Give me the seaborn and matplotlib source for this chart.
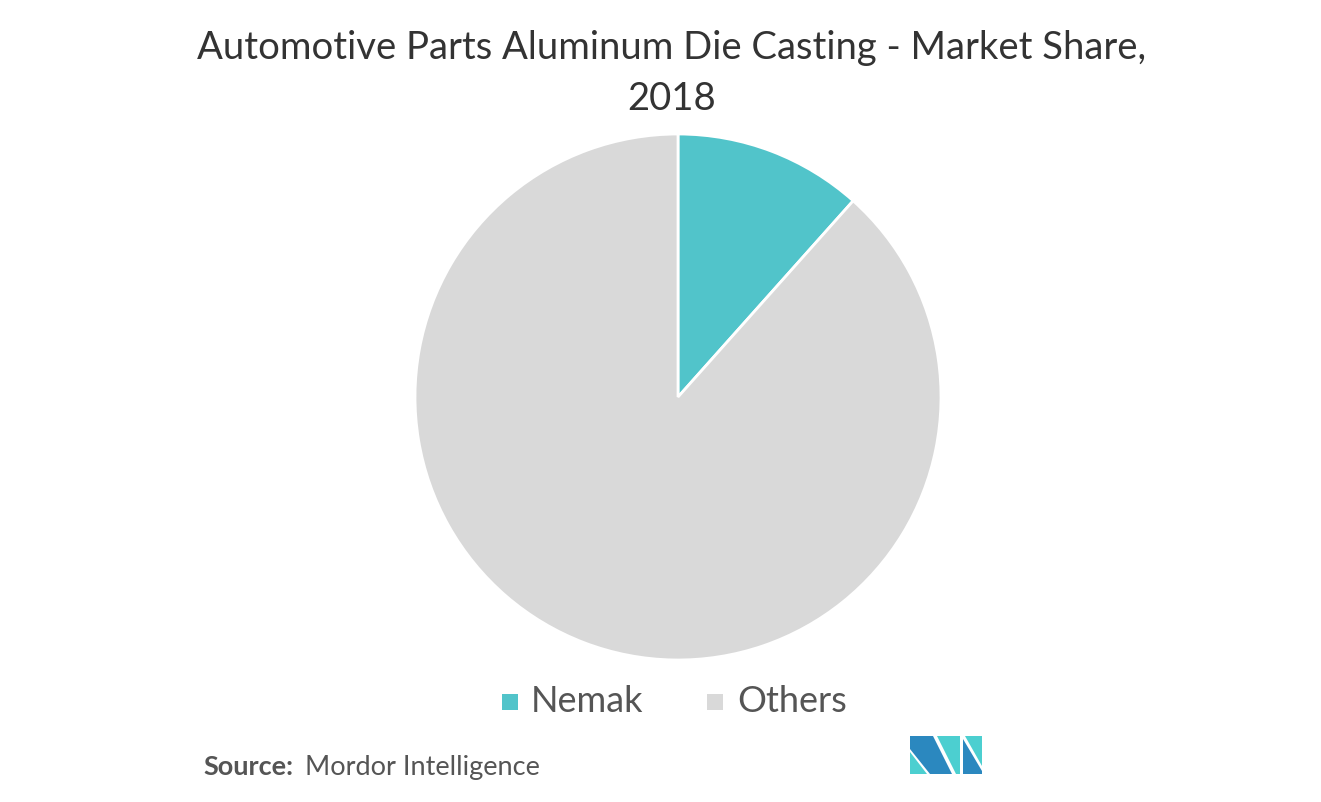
import matplotlib
matplotlib.use("Agg")
import matplotlib.pyplot as plt
import seaborn as sns
from matplotlib.patches import Polygon, Rectangle

# Market share data
segments = ["Nemak", "Others"]
shares = [11.6, 88.4]
colors = ["#51c4ca", "#d9d9d9"]

sns.set_theme(style="white")
plt.rcParams['font.family'] = ['Lato', 'DejaVu Sans']

W, H = 1321, 802
fig = plt.figure(figsize=(W / 100, H / 100), dpi=100)
fig.patch.set_facecolor("white")


def fx(px):
    return px / W


def fy(py):
    return 1 - py / H


# pie axes: centre (678, 397), radius ~263 px
cx, cy, r = 678, 397, 263
ax = fig.add_axes([fx(cx - r), fy(cy + r), 2 * r / W, 2 * r / H])
ax.pie(shares, colors=colors, startangle=90, counterclock=False,
       wedgeprops=dict(edgecolor="white", linewidth=2))
ax.set_xlim(-1, 1)
ax.set_ylim(-1, 1)
ax.set_aspect("auto")
ax.axis("off")

# title
fig.text(fx(672), fy(48), "Automotive Parts Aluminum Die Casting - Market Share,",
         ha="center", va="center", fontsize=27.5, color="#333333")
fig.text(fx(672), fy(99), "2018", ha="center", va="center", fontsize=27.5, color="#333333")

# legend
leg_y = 702
for (lx, tx), name, col in zip([(510, 531), (715, 737)], segments, colors):
    fig.add_artist(Rectangle((fx(lx - 8), fy(leg_y + 8)), 16 / W, 16 / H,
                             transform=fig.transFigure, facecolor=col, edgecolor="none"))
    fig.text(fx(tx), fy(leg_y), name, ha="left", va="center", fontsize=26, color="#555555")

# source
fig.text(fx(203), fy(767), "Source:", ha="left", va="center", fontsize=19.5,
         fontweight="bold", color="#555555")
fig.text(fx(305), fy(767), "Mordor Intelligence", ha="left", va="center", fontsize=19.5,
         color="#555555")

# logo
dark, teal = "#2b88bf", "#4ccfd0"
shapes = [
    ([(910, 736), (933, 736), (952, 774), (930, 774), (910, 749)], dark),
    ([(910, 752), (910, 774), (927, 774)], teal),
    ([(937, 736), (960, 736), (960, 774), (956, 774)], teal),
    ([(963, 739), (982, 771), (982, 774), (963, 774)], dark),
    ([(965, 736), (982, 736), (982, 766)], teal),
]
for pts, col in shapes:
    fig.add_artist(Polygon([(fx(x), fy(y)) for x, y in pts], closed=True,
                           transform=fig.transFigure, facecolor=col, edgecolor="none"))

fig.savefig("out.png", dpi=100, facecolor="white")
